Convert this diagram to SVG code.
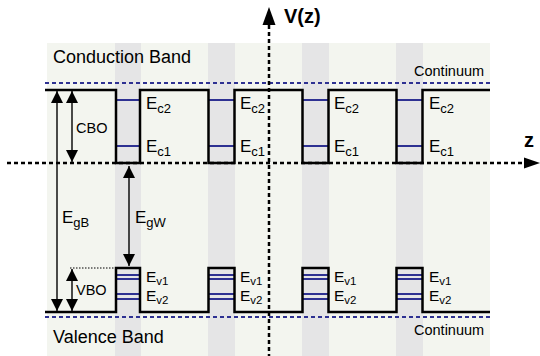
<svg xmlns="http://www.w3.org/2000/svg" width="540" height="356" viewBox="0 0 540 356">
<style>
text{font-family:"Liberation Sans",Arial,sans-serif;fill:#000}
.big{font-size:18px}
.cont{font-size:14.5px}
.e{font-size:17px}
.sub{font-size:13px}
.ev{font-size:15.5px}
.subv{font-size:11.5px}
.small{font-size:14.5px}
.bold{font-weight:bold;font-size:20px}
.band{fill:none;stroke:#000;stroke-width:2.5}
.lvl{stroke:#2e3192;stroke-width:2}
.cdash{stroke:#2e3192;stroke-width:2;stroke-dasharray:4 3}
.axis{stroke:#000;stroke-width:2.5;stroke-dasharray:4 3;fill:none}
.dim{stroke:#000;stroke-width:1.4;fill:none;marker-start:url(#ah);marker-end:url(#ah)}
.stripe{fill:#e5e5e6}
</style>
<defs>
<marker id="ah" viewBox="0 0 12 12" refX="12" refY="6" markerWidth="12" markerHeight="12" markerUnits="userSpaceOnUse" orient="auto-start-reverse">
<path d="M0,0 L12,6 L0,12 Z" fill="#000"/>
</marker>
</defs>
<rect width="540" height="356" fill="#fff"/>
<g id="background">
<rect x="47" y="43" width="443" height="313" fill="#f3f5ef"/>
<rect class="stripe" x="115" y="43" width="26" height="313"/>
<rect class="stripe" x="208" y="43" width="27" height="313"/>
<rect class="stripe" x="302" y="43" width="27" height="313"/>
<rect class="stripe" x="396" y="43" width="27" height="313"/>
</g>
<g id="continuum">
<line class="cdash" x1="45" y1="83" x2="490" y2="83"/>
<line class="cdash" x1="45" y1="317" x2="490" y2="317"/>
<text class="cont" x="414" y="76">Continuum</text>
<text class="cont" x="414" y="335">Continuum</text>
</g>
<g id="levels">
<g id="cb-levels">
<line class="lvl" x1="116" y1="100" x2="140" y2="100"/><line class="lvl" x1="116" y1="146" x2="140" y2="146"/>
<line class="lvl" x1="209" y1="100" x2="234" y2="100"/><line class="lvl" x1="209" y1="146" x2="234" y2="146"/>
<line class="lvl" x1="303" y1="100" x2="328" y2="100"/><line class="lvl" x1="303" y1="146" x2="328" y2="146"/>
<line class="lvl" x1="397" y1="100" x2="422" y2="100"/><line class="lvl" x1="397" y1="146" x2="422" y2="146"/>
</g>
<g id="vb-levels">
<line class="lvl" x1="116" y1="275" x2="140" y2="275"/><line class="lvl" x1="116" y1="279" x2="140" y2="279"/>
<line class="lvl" x1="116" y1="294" x2="140" y2="294"/><line class="lvl" x1="116" y1="299" x2="140" y2="299"/>
<line class="lvl" x1="209" y1="275" x2="234" y2="275"/><line class="lvl" x1="209" y1="279" x2="234" y2="279"/>
<line class="lvl" x1="209" y1="294" x2="234" y2="294"/><line class="lvl" x1="209" y1="299" x2="234" y2="299"/>
<line class="lvl" x1="303" y1="275" x2="328" y2="275"/><line class="lvl" x1="303" y1="279" x2="328" y2="279"/>
<line class="lvl" x1="303" y1="294" x2="328" y2="294"/><line class="lvl" x1="303" y1="299" x2="328" y2="299"/>
<line class="lvl" x1="397" y1="275" x2="422" y2="275"/><line class="lvl" x1="397" y1="279" x2="422" y2="279"/>
<line class="lvl" x1="397" y1="294" x2="422" y2="294"/><line class="lvl" x1="397" y1="299" x2="422" y2="299"/>
</g>
</g>
<g id="bands">
<path class="band" d="M45,90 H116 V163 H140 V90 H208.5 V163 H234.5 V90 H302.5 V163 H328.5 V90 H396.5 V163 H422.5 V90 H490"/>
<path class="band" d="M45,312 H116 V268 H140 V312 H208.5 V268 H234.5 V312 H302.5 V268 H328.5 V312 H396.5 V268 H422.5 V312 H490"/>
</g>
<g id="axes">
<line class="axis" x1="7" y1="163" x2="525" y2="163"/>
<path d="M524,157.5 L540,163 L524,168.5 Z" fill="#000"/>
<line class="axis" x1="269" y1="25" x2="269" y2="356"/>
<path d="M262.5,25 L269,7 L275.5,25 Z" fill="#000"/>
<text class="bold" x="284" y="23">V(z)</text>
<text class="bold" x="524" y="147">z</text>
</g>
<g id="connectors">
<line class="dim" x1="57" y1="91" x2="57" y2="311"/>
<line class="dim" x1="72" y1="91" x2="72" y2="162"/>
<line class="dim" x1="72" y1="269" x2="72" y2="311"/>
<line class="dim" x1="129" y1="166" x2="129" y2="266"/>
<line x1="70" y1="268" x2="115" y2="268" stroke="#000" stroke-width="1" stroke-dasharray="1.5 1.5"/>
</g>
<g id="band-labels">
<text class="big" x="53" y="63">Conduction Band</text>
<text class="big" x="53" y="343">Valence Band</text>
<text class="small" x="76" y="133">CBO</text>
<text class="small" x="76" y="295">VBO</text>
<text class="e" x="62" y="223">E<tspan class="sub" dy="4">gB</tspan></text>
<text class="e" x="135" y="223">E<tspan class="sub" dy="4">gW</tspan></text>
</g>
<g id="level-labels">
<text class="e" x="146" y="109">E<tspan class="sub" dy="4">c2</tspan></text>
<text class="e" x="146" y="152">E<tspan class="sub" dy="4">c1</tspan></text>
<text class="ev" x="146" y="282">E<tspan class="subv" dy="3">v1</tspan></text>
<text class="ev" x="146" y="301">E<tspan class="subv" dy="3">v2</tspan></text>
<text class="e" x="240" y="109">E<tspan class="sub" dy="4">c2</tspan></text>
<text class="e" x="240" y="152">E<tspan class="sub" dy="4">c1</tspan></text>
<text class="ev" x="240" y="282">E<tspan class="subv" dy="3">v1</tspan></text>
<text class="ev" x="240" y="301">E<tspan class="subv" dy="3">v2</tspan></text>
<text class="e" x="334" y="109">E<tspan class="sub" dy="4">c2</tspan></text>
<text class="e" x="334" y="152">E<tspan class="sub" dy="4">c1</tspan></text>
<text class="ev" x="334" y="282">E<tspan class="subv" dy="3">v1</tspan></text>
<text class="ev" x="334" y="301">E<tspan class="subv" dy="3">v2</tspan></text>
<text class="e" x="429" y="109">E<tspan class="sub" dy="4">c2</tspan></text>
<text class="e" x="429" y="152">E<tspan class="sub" dy="4">c1</tspan></text>
<text class="ev" x="429" y="282">E<tspan class="subv" dy="3">v1</tspan></text>
<text class="ev" x="429" y="301">E<tspan class="subv" dy="3">v2</tspan></text>
</g>
</svg>
